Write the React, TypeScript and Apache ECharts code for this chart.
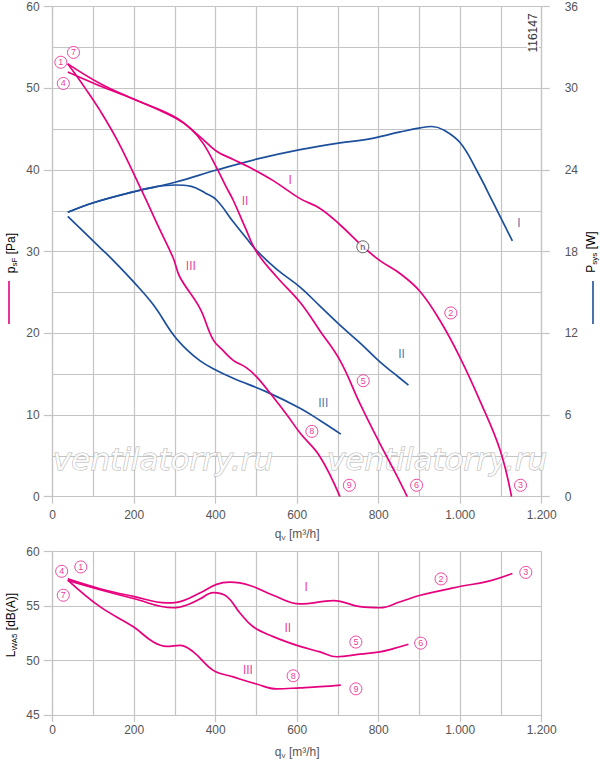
import React, { useEffect, useRef } from 'react';
import * as echarts from 'echarts';

// ---------- data ----------
const Q_MIN = 0;
const Q_MAX = 1200;
const Q_STEP = 200;

// static pressure p_sF [Pa] vs q_v [m3/h]
const PRESS_I: [number, number][] = [
  [37, 53.0], [116, 50.6], [198, 48.7], [300, 46.5], [361, 44.1], [402, 42.3], [443, 41.3],
  [484, 40.3], [541, 38.7], [607, 36.5], [656, 35.3], [705, 33.3], [762, 30.6], [803, 28.9],
  [853, 27.3], [902, 25.1], [950, 21.6], [999, 17.1], [1048, 11.8], [1098, 5.7], [1126, 0],
];
const PRESS_II: [number, number][] = [
  [37, 52.0], [116, 50.3], [198, 48.7], [300, 46.4], [340, 45.0], [370, 43.2], [402, 40.3],
  [425, 38.0], [443, 36.3], [472, 33.0], [500, 30.0], [550, 26.9], [607, 23.8], [656, 20.3],
  [705, 16.7], [754, 11.4], [803, 6.5], [840, 3.0], [870, 0],
];
const PRESS_III: [number, number][] = [
  [37, 53.0], [80, 50.0], [116, 47.3], [160, 43.5], [222, 37.1], [260, 33.0], [296, 29.2],
  [312, 26.9], [361, 23.1], [394, 19.2], [420, 17.8], [443, 16.7], [475, 15.8], [500, 14.7],
  [541, 12.2], [575, 10.0], [607, 7.8], [656, 4.9], [705, 0],
];

// power consumption P_sys [W]
const POWER_I: [number, number][] = [
  [37, 20.9], [100, 21.6], [198, 22.4], [300, 23.1], [402, 24.0], [500, 24.8], [607, 25.5],
  [705, 26.0], [771, 26.25], [853, 26.8], [902, 27.1], [930, 27.2], [959, 26.95],
  [1000, 26.0], [1040, 24.0], [1081, 21.6], [1128, 18.8],
];
const POWER_II: [number, number][] = [
  [37, 20.9], [100, 21.6], [198, 22.4], [250, 22.75], [300, 22.9], [340, 22.8], [375, 22.3],
  [402, 21.8], [443, 20.2], [475, 19.0], [500, 18.1], [550, 16.7], [607, 15.4], [656, 14.0],
  [705, 12.6], [754, 11.3], [803, 9.9], [840, 9.0], [873, 8.2],
];
const POWER_III: [number, number][] = [
  [37, 20.6], [116, 18.3], [149, 17.35], [198, 15.8], [247, 14.1], [296, 11.9], [329, 10.8],
  [361, 10.0], [394, 9.4], [443, 8.7], [525, 7.7], [607, 6.5], [656, 5.6], [707, 4.6],
];

// sound power level L_WA5 [dB(A)]
const SOUND_I: [number, number][] = [
  [37, 57.5], [116, 56.6], [198, 55.9], [280, 55.3], [304, 55.35], [361, 56.2], [402, 57.0],
  [435, 57.2], [484, 56.9], [541, 56.0], [607, 55.2], [689, 55.5], [754, 54.95], [803, 54.85],
  [853, 55.4], [902, 56.0], [999, 56.8], [1065, 57.25], [1128, 58.0],
];
const SOUND_II: [number, number][] = [
  [37, 57.35], [116, 56.5], [198, 55.7], [296, 54.85], [329, 55.1], [361, 55.65], [394, 56.25],
  [427, 55.9], [460, 54.35], [492, 53.1], [541, 52.2], [607, 51.3], [656, 50.8], [697, 50.35],
  [754, 50.6], [803, 50.8], [836, 51.1], [873, 51.5],
];
const SOUND_III: [number, number][] = [
  [37, 57.4], [116, 54.95], [198, 53.1], [247, 51.7], [280, 51.3], [312, 51.4], [345, 50.8],
  [394, 49.1], [443, 48.5], [500, 47.85], [550, 47.4], [607, 47.5], [656, 47.6], [707, 47.75],
];

// operating point markers (circled numbers), in data coordinates of each chart
const PRESS_POINT_LABELS: [number, number, string][] = [
  [20, 53.2, '1'], [977, 22.5, '2'], [1148, 1.4, '3'], [26, 50.6, '4'], [762, 14.2, '5'],
  [893, 1.4, '6'], [51, 54.4, '7'], [636, 8.0, '8'], [728, 1.4, '9'],
];
const PRESS_N_LABEL: [number, number, string][] = [[761, 30.6, 'n']];
const PRESS_CURVE_LABELS: [number, number, string][] = [[583, 38.8, 'I'], [472, 36.2, 'II'], [339, 28.3, 'III']];
const POWER_CURVE_LABELS: [number, number, string][] = [[1144, 20.1, 'I'], [856, 10.5, 'II'], [664, 6.9, 'III']];
const SOUND_POINT_LABELS: [number, number, string][] = [
  [69, 58.6, '1'], [953, 57.5, '2'], [1161, 58.1, '3'], [22, 58.2, '4'], [744, 51.7, '5'],
  [903, 51.6, '6'], [26, 56.0, '7'], [590, 48.6, '8'], [744, 47.4, '9'],
];
const SOUND_CURVE_LABELS: [number, number, string][] = [[622, 56.8, 'I'], [577, 53.0, 'II'], [479, 49.1, 'III']];

// ---------- styles ----------
const FONT = 'Arial, "Liberation Sans", "Noto Sans", sans-serif';
const MAGENTA = '#e6007e';
const BLUE = '#1c4f9c';
const GRID = '#c4c4c4';
const TEXT = '#555555';

const fmtQ = (v: number) =>
  v >= 1000 ? `${Math.floor(v / 1000)}.${String(v % 1000).padStart(3, '0')}` : String(v);

const nameRich = {
  a: { fontSize: 12, color: TEXT, fontFamily: FONT, lineHeight: 15 },
  s: { fontSize: 8, color: TEXT, fontFamily: FONT, lineHeight: 8, padding: [7, 0, 0, 0] },
};

const lineSeries = (name: string, data: [number, number][], color: string, xi: number, yi: number) => ({
  name,
  type: 'line',
  xAxisIndex: xi,
  yAxisIndex: yi,
  data,
  smooth: 0.4,
  symbol: 'none',
  silent: true,
  lineStyle: { color, width: 1.7 },
  z: 3,
});

const circledSeries = (data: [number, number, string][], color: string, xi: number, yi: number) => ({
  type: 'scatter',
  xAxisIndex: xi,
  yAxisIndex: yi,
  data,
  symbol: 'circle',
  symbolSize: 12,
  silent: true,
  itemStyle: { color: '#ffffff', borderColor: color, borderWidth: 0.9 },
  label: {
    show: true,
    position: 'inside',
    formatter: (p: any) => p.data[2],
    fontSize: 9,
    fontFamily: FONT,
    color,
  },
  z: 5,
});

const textSeries = (data: [number, number, string][], color: string, xi: number, yi: number) => ({
  type: 'scatter',
  xAxisIndex: xi,
  yAxisIndex: yi,
  data,
  symbolSize: 0,
  silent: true,
  itemStyle: { color: 'transparent' },
  label: {
    show: true,
    position: 'inside',
    formatter: (p: any) => p.data[2],
    fontSize: 12,
    fontFamily: FONT,
    color,
  },
  z: 5,
});

const xAxisBase = (gridIndex: number, labelMargin: number, nameGap: number) => ({
  gridIndex,
  type: 'value',
  min: Q_MIN,
  max: Q_MAX,
  interval: Q_STEP,
  name: '{a|q}{s|v}{a| [m³/h]}',
  nameLocation: 'middle',
  nameGap,
  nameTextStyle: { rich: nameRich },
  axisLine: { show: true, lineStyle: { color: GRID, width: 1.2 } },
  axisTick: { show: true, length: 7, lineStyle: { color: GRID, width: 1.2 } },
  axisLabel: { margin: labelMargin, fontSize: 12, fontFamily: FONT, color: TEXT, formatter: fmtQ },
  splitLine: { show: true, lineStyle: { color: GRID, width: 1.2 } },
  minorTick: { show: false, splitNumber: 2 },
  minorSplitLine: { show: true, lineStyle: { color: GRID, width: 1.2 } },
});

const watermark = (x: number) => ({
  type: 'text', x, y: 459, z: 1, silent: true,
  style: {
    text: 'ventilatorry.ru', font: 'italic 31px "DejaVu Sans", Arial, sans-serif',
    fill: 'rgba(255,255,255,0.85)', stroke: '#b4b4b4', lineWidth: 1, verticalAlign: 'middle',
  },
});

function App() {
  const ref = useRef<HTMLDivElement>(null);

  useEffect(() => {
    if (!ref.current) return;
    const chart = echarts.init(ref.current, undefined, { renderer: 'svg' });

    const option: any = {
      animation: false,
      textStyle: { fontFamily: FONT },
      grid: [
        { left: 52.7, top: 6.7, width: 489, height: 490 },
        { left: 52.7, top: 551.7, width: 489, height: 163.3 },
      ],
      xAxis: [xAxisBase(0, 12, 30), xAxisBase(1, 9, 29)],
      yAxis: [
        {
          gridIndex: 0,
          type: 'value',
          min: 0,
          max: 60,
          interval: 10,
          axisLine: { show: true, lineStyle: { color: GRID, width: 1.2 } },
          axisTick: { show: true, length: 9, lineStyle: { color: GRID, width: 1.2 } },
          axisLabel: { margin: 13, fontSize: 12, fontFamily: FONT, color: TEXT },
          splitLine: { show: true, lineStyle: { color: GRID, width: 1.2 } },
          minorTick: { show: false, splitNumber: 2 },
          minorSplitLine: { show: true, lineStyle: { color: GRID, width: 1.2 } },
        },
        {
          gridIndex: 0,
          type: 'value',
          position: 'right',
          min: 0,
          max: 36,
          interval: 6,
          axisLine: { show: true, lineStyle: { color: GRID, width: 1.2 } },
          axisTick: { show: true, length: 8, lineStyle: { color: GRID, width: 1.2 } },
          axisLabel: { margin: 23, fontSize: 12, fontFamily: FONT, color: TEXT, align: 'left' },
          splitLine: { show: false },
        },
        {
          gridIndex: 1,
          type: 'value',
          min: 45,
          max: 60,
          interval: 5,
          axisLine: { show: true, lineStyle: { color: GRID, width: 1.2 } },
          axisTick: { show: true, length: 9, lineStyle: { color: GRID, width: 1.2 } },
          axisLabel: { margin: 13, fontSize: 12, fontFamily: FONT, color: TEXT },
          splitLine: { show: true, lineStyle: { color: GRID, width: 1.2 } },
        },
      ],
      graphic: [
        watermark(53),
        watermark(327),
        {
          type: 'text', x: 533, y: 33, rotation: Math.PI / 2, z: 4,
          style: {
            text: '116147', fontSize: 12, fontFamily: FONT, fill: '#333333',
            align: 'center', verticalAlign: 'middle', backgroundColor: '#ffffff', padding: [0, 1],
          },
        },
        {
          type: 'text', x: 11, y: 253, rotation: Math.PI / 2,
          style: { text: '{a|p}{s|sF}{a| [Pa]}', rich: nameRich, align: 'center', verticalAlign: 'middle' },
        },
        { type: 'line', shape: { x1: 9, y1: 281, x2: 9, y2: 324 }, style: { stroke: MAGENTA, lineWidth: 1.6 } },
        {
          type: 'text', x: 591, y: 252, rotation: Math.PI / 2,
          style: { text: '{a|P}{s|sys}{a| [W]}', rich: nameRich, align: 'center', verticalAlign: 'middle' },
        },
        { type: 'line', shape: { x1: 593, y1: 281, x2: 593, y2: 324 }, style: { stroke: BLUE, lineWidth: 1.6 } },
        {
          type: 'text', x: 11, y: 625, rotation: Math.PI / 2,
          style: { text: '{a|L}{s|WA5}{a| [dB(A)]}', rich: nameRich, align: 'center', verticalAlign: 'middle' },
        },
      ],
      series: [
        lineSeries('P I', POWER_I, BLUE, 0, 1),
        lineSeries('P II', POWER_II, BLUE, 0, 1),
        lineSeries('P III', POWER_III, BLUE, 0, 1),
        lineSeries('p I', PRESS_I, MAGENTA, 0, 0),
        lineSeries('p II', PRESS_II, MAGENTA, 0, 0),
        lineSeries('p III', PRESS_III, MAGENTA, 0, 0),
        lineSeries('L I', SOUND_I, MAGENTA, 1, 2),
        lineSeries('L II', SOUND_II, MAGENTA, 1, 2),
        lineSeries('L III', SOUND_III, MAGENTA, 1, 2),
        circledSeries(PRESS_POINT_LABELS, MAGENTA, 0, 0),
        circledSeries(PRESS_N_LABEL, '#222222', 0, 0),
        textSeries(PRESS_CURVE_LABELS, MAGENTA, 0, 0),
        textSeries(POWER_CURVE_LABELS, BLUE, 0, 1),
        circledSeries(SOUND_POINT_LABELS, MAGENTA, 1, 2),
        textSeries(SOUND_CURVE_LABELS, MAGENTA, 1, 2),
      ],
    };

    chart.setOption(option);
    return () => chart.dispose();
  }, []);

  return (
    <div
      ref={ref}
      style={{ position: 'absolute', left: 0, top: 0, width: 600, height: 760, background: '#ffffff' }}
    />
  );
}

export default App;
